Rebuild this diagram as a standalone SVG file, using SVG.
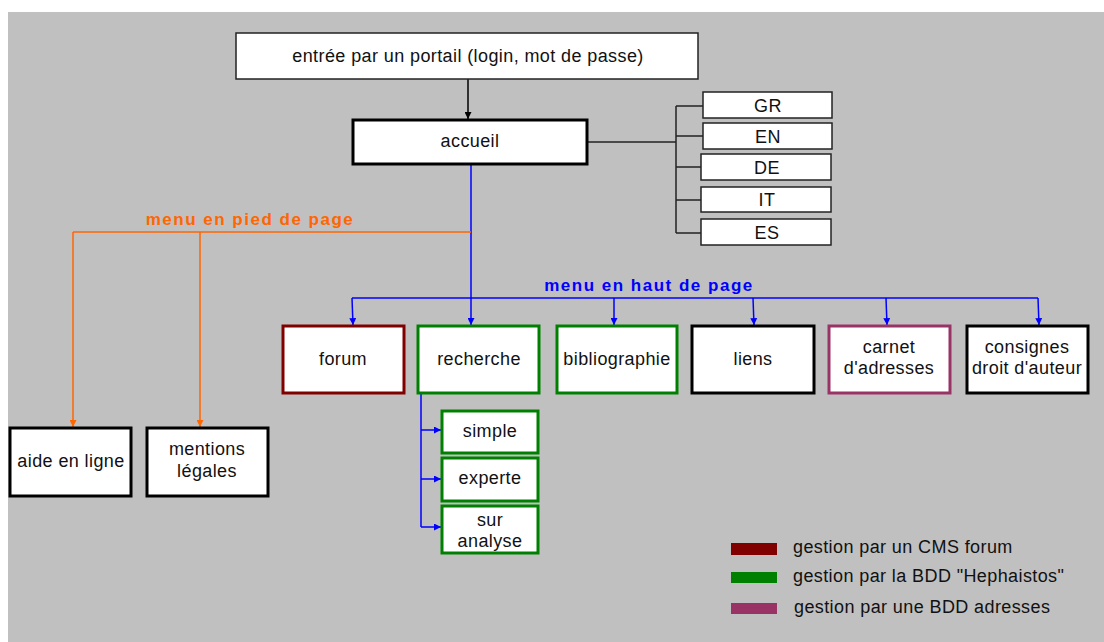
<svg xmlns="http://www.w3.org/2000/svg" width="1104" height="642" viewBox="0 0 1104 642">
  <style>
    text { font-family: "Liberation Sans", Arial, sans-serif; font-size: 18px; letter-spacing: 0.4px; fill: #111; text-anchor: middle; }
    .lbl { font-weight: bold; font-size: 17px; letter-spacing: 1.5px; }
    .box { fill: #fff; }
    .thin { stroke: #222; stroke-width: 1.5; }
    .blk { stroke: #000; stroke-width: 3; }
    .red { stroke: #800000; stroke-width: 3; }
    .grn { stroke: #008000; stroke-width: 3; }
    .pur { stroke: #993366; stroke-width: 3; }
    .wire { fill: none; stroke-width: 1.5; }
    .legend text { text-anchor: start; }
  </style>
  <defs>
    <marker id="ahK" viewBox="0 0 10 10" refX="10" refY="5" markerWidth="7" markerHeight="7" orient="auto" markerUnits="userSpaceOnUse">
      <path d="M0,0 L10,5 L0,10 z" fill="#000"/>
    </marker>
    <marker id="ahB" viewBox="0 0 10 10" refX="10" refY="5" markerWidth="9" markerHeight="7" orient="auto" markerUnits="userSpaceOnUse">
      <path d="M0,0 L10,5 L0,10 z" fill="#0000ff"/>
    </marker>
    <marker id="ahO" viewBox="0 0 10 10" refX="10" refY="5" markerWidth="9" markerHeight="7" orient="auto" markerUnits="userSpaceOnUse">
      <path d="M0,0 L10,5 L0,10 z" fill="#ff6600"/>
    </marker>
  </defs>

  <!-- background panel -->
  <rect x="8" y="12" width="1096" height="630" fill="#c0c0c0"/>

  <!-- connectors -->
  <g id="connectors">
    <line class="wire" x1="468" y1="79" x2="468" y2="119" stroke="#000" marker-end="url(#ahK)"/>
    <!-- language branch -->
    <path class="wire" stroke="#222" d="M587,142 H676 M676,106 V233 M676,106 H703 M676,136 H703 M676,167 H701 M676,200 H701 M676,233 H701"/>
    <!-- top menu bus -->
    <path class="wire" stroke="#0000ff" d="M471,164 V298 M352,298 H1038"/>
    <line class="wire" stroke="#0000ff" x1="352" y1="298" x2="353" y2="325" marker-end="url(#ahB)"/>
    <line class="wire" stroke="#0000ff" x1="471" y1="298" x2="471" y2="325" marker-end="url(#ahB)"/>
    <line class="wire" stroke="#0000ff" x1="614" y1="298" x2="614" y2="325" marker-end="url(#ahB)"/>
    <line class="wire" stroke="#0000ff" x1="753" y1="298" x2="754" y2="325" marker-end="url(#ahB)"/>
    <line class="wire" stroke="#0000ff" x1="886" y1="298" x2="887" y2="325" marker-end="url(#ahB)"/>
    <line class="wire" stroke="#0000ff" x1="1038" y1="298" x2="1039" y2="325" marker-end="url(#ahB)"/>
    <!-- footer menu -->
    <path class="wire" stroke="#ff6600" d="M471,232 H73"/>
    <line class="wire" stroke="#ff6600" x1="73" y1="232" x2="73" y2="427" marker-end="url(#ahO)"/>
    <line class="wire" stroke="#ff6600" x1="200" y1="232" x2="200" y2="427" marker-end="url(#ahO)"/>
    <!-- search sub-branch -->
    <path class="wire" stroke="#0000ff" d="M421,393 V527"/>
    <line class="wire" stroke="#0000ff" x1="421" y1="430" x2="441" y2="430" marker-end="url(#ahB)"/>
    <line class="wire" stroke="#0000ff" x1="421" y1="479" x2="441" y2="479" marker-end="url(#ahB)"/>
    <line class="wire" stroke="#0000ff" x1="421" y1="527" x2="441" y2="527" marker-end="url(#ahB)"/>
  </g>

  <text class="lbl" x="250" y="225" style="fill:#ff6600">menu en pied de page</text>
  <text class="lbl" x="649" y="291" style="fill:#0000ff">menu en haut de page</text>

  <g id="portail"><rect class="box thin" x="236" y="33" width="462" height="46"/><text x="468" y="62">entrée par un portail (login, mot de passe)</text></g>
  <g id="accueil"><rect class="box blk" x="353" y="120" width="234" height="44"/><text x="470" y="147">accueil</text></g>

  <g id="gr"><rect class="box thin" x="703" y="92" width="129" height="26"/><text x="768" y="112">GR</text></g>
  <g id="en"><rect class="box thin" x="703" y="123" width="129" height="26"/><text x="768" y="143">EN</text></g>
  <g id="de"><rect class="box thin" x="701" y="154" width="130" height="26"/><text x="767" y="174">DE</text></g>
  <g id="it"><rect class="box thin" x="701" y="187" width="130" height="25"/><text x="767" y="206">IT</text></g>
  <g id="es"><rect class="box thin" x="701" y="219" width="130" height="26"/><text x="767" y="239">ES</text></g>

  <g id="forum"><rect class="box red" x="283" y="326" width="121" height="67"/><text x="343" y="365">forum</text></g>
  <g id="recherche"><rect class="box grn" x="418" y="326" width="121" height="67"/><text x="479" y="365">recherche</text></g>
  <g id="bibliographie"><rect class="box grn" x="557" y="326" width="120" height="67"/><text x="617" y="365">bibliographie</text></g>
  <g id="liens"><rect class="box blk" x="692" y="326" width="122" height="67"/><text x="753" y="365">liens</text></g>
  <g id="carnet"><rect class="box pur" x="829" y="326" width="121" height="67"/><text x="889" y="353">carnet</text><text x="889" y="374">d'adresses</text></g>
  <g id="consignes"><rect class="box blk" x="967" y="326" width="121" height="67"/><text x="1027" y="353">consignes</text><text x="1027" y="374">droit d'auteur</text></g>

  <g id="aide"><rect class="box blk" x="10" y="428" width="121" height="68"/><text x="71" y="467">aide en ligne</text></g>
  <g id="mentions"><rect class="box blk" x="147" y="428" width="121" height="68"/><text x="207" y="455">mentions</text><text x="207" y="477">légales</text></g>

  <g id="simple"><rect class="box grn" x="442" y="411" width="96" height="42"/><text x="490" y="437">simple</text></g>
  <g id="experte"><rect class="box grn" x="442" y="458" width="96" height="43"/><text x="490" y="484">experte</text></g>
  <g id="analyse"><rect class="box grn" x="442" y="506" width="96" height="47"/><text x="490" y="526">sur</text><text x="490" y="547">analyse</text></g>

  <g id="legende" class="legend">
    <rect x="731" y="543" width="46" height="12" fill="#800000"/>
    <text x="793" y="553">gestion par un CMS forum</text>
    <rect x="731" y="572" width="46" height="11" fill="#008000"/>
    <text x="793" y="582">gestion par la BDD "Hephaistos"</text>
    <rect x="731" y="603" width="46" height="11" fill="#993366"/>
    <text x="794" y="613">gestion par une BDD adresses</text>
  </g>
</svg>
